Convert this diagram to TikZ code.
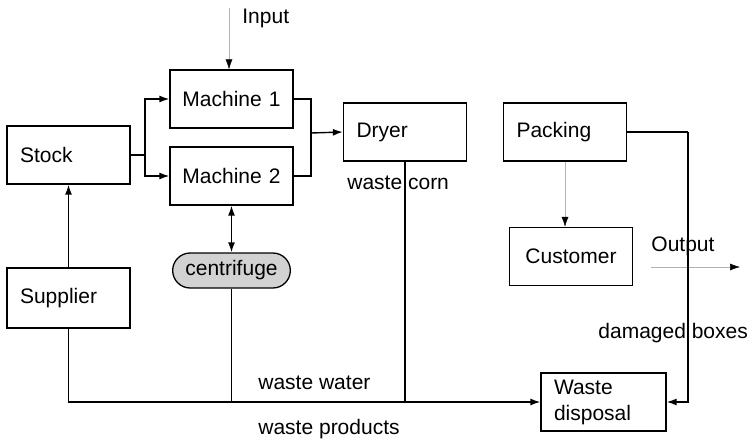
\documentclass[tikz,border=0pt]{standalone}
\usepackage{fontspec}
\setmainfont{Liberation Sans}
\usetikzlibrary{arrows.meta,shapes.misc}

\begin{document}
\begin{tikzpicture}[x=.5pt,y=-.5pt,font=\fontsize{10.5}{12}\selectfont]
\tikzset{box/.style = {shape=rectangle,draw,line width=.65pt,minimum width=61.5pt,minimum height=29pt,inner xsep=6.5pt,text width=48.5pt,align=left}}
\tikzset{mbox/.style = {box,inner xsep=2pt,text width=57.5pt,align=center}}
\tikzset{edge/.style = {line width=.7pt,-{Latex[length=5pt,width=3.5pt]}}}
\tikzset{flow/.style = {line width=.7pt}}
\tikzset{thinedge/.style = {gray!60,line width=.25pt,-{Latex[length=5pt,width=3.5pt,black]}}}
\tikzset{lbl/.style = {anchor=west,inner sep=0pt}}
\useasboundingbox (0,0) rectangle (748,439);
% vertices
\node[box] (stock) at (68.5,155) {Stock};
\node[mbox] (m1) at (231.5,99) {Machine 1};
\node[mbox] (m2) at (231.5,176) {Machine 2};
\node[box] (dryer) at (405,132) {Dryer};
\node[box] (packing) at (565,132) {Packing};
\node[mbox] (customer) at (571,256.5) {Customer};
\node[box,minimum height=30pt] (supplier) at (68.5,298) {Supplier};
\node[shape=rounded rectangle,draw,line width=.65pt,fill=gray!35,minimum width=65.5pt,minimum height=17.5pt] (cf) at (231.5,270.5) {centrifuge};
\node[box,minimum width=62.5pt,text width=49.5pt,minimum height=28.5pt] (waste) at (603.5,402) {Waste\\[1pt]disposal};

% labels
\node[lbl] (input) at (242,18) {Input};
\node[lbl] (wcorn) at (347,183) {waste corn};
\node[lbl] (wwater) at (258,383) {waste water};
\node[lbl] (wprod) at (258,429) {waste products};
\node[lbl] (dmg) at (598,333) {damaged boxes};
\node[lbl] (output) at (651,246) {Output};

\coordinate (in) at (229,8);
\coordinate (split) at (145,155);
\coordinate (merge) at (311,133);
\coordinate (pk) at (688,132);
\coordinate (outA) at (651,267);
\coordinate (outB) at (740,267);

%edges
\draw[thinedge] (in) -- (in |- m1.north);
\draw[flow] (stock.east) -- (split);
\draw[edge] (split) |- (m1.west);
\draw[edge] (split) |- (m2.west);
\draw[flow] (m1.east) -| (merge);
\draw[flow] (m2.east) -| (merge);
\draw[edge] (merge) -- (dryer.west);
\draw[edge] (supplier.north) -- (stock.south);
\draw[edge,{Latex[length=5pt,width=3.5pt]}-{Latex[length=5pt,width=3.5pt]}] (m2.south) -- (cf.north);
\draw[thinedge] (packing.south) -- (packing.south |- customer.north);
\draw[thinedge] (outA) -- (outB);
\draw[edge] (supplier.south) |- (waste.west);
\draw[flow] (cf.south) -- (cf.south |- waste.west);
\draw[flow] (dryer.south) -- (dryer.south |- waste.west);
\draw[flow] (packing.east) -- (pk);
\draw[edge] (pk) |- (waste.east);

\end{tikzpicture}
\end{document}
